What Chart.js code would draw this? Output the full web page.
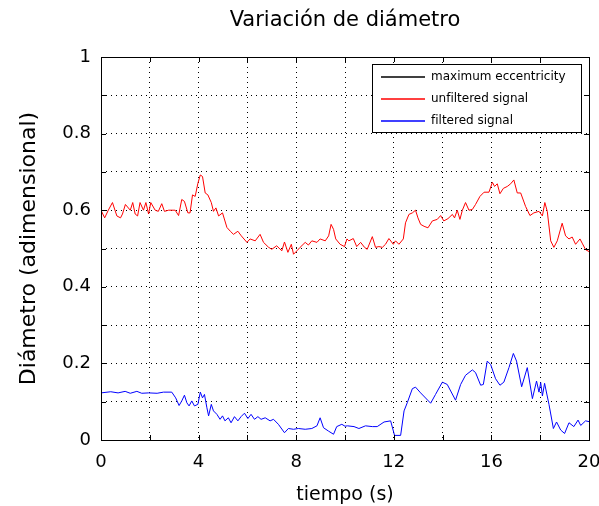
<!DOCTYPE html>
<html lang="es">
<head>
  <meta charset="UTF-8">
  <title>Variación de diámetro</title>
  <style>
    html, body { margin: 0; padding: 0; background: #fff; }
    #wrap { width: 599px; height: 506px; position: relative; }
  </style>
</head>
<body>
  <div id="wrap"><canvas id="chart"></canvas></div>

  <script src="https://cdn.jsdelivr.net/npm/chart.js"></script>
  <script>
    // values
    const redT = [0, 0.15, 0.3, 0.47, 0.65, 0.8, 0.88, 1.0, 1.2, 1.3, 1.4, 1.5, 1.6, 1.74, 1.84, 1.95, 2.04, 2.22, 2.35, 2.49, 2.6, 2.77, 3.04, 3.18, 3.31, 3.42, 3.56, 3.65, 3.75, 3.86, 3.97, 4.07, 4.16, 4.27, 4.38, 4.52, 4.61, 4.71, 4.82, 4.98, 5.16, 5.3, 5.43, 5.61, 5.75, 5.98, 6.11, 6.32, 6.52, 6.66, 6.87, 7.0, 7.2, 7.41, 7.52, 7.66, 7.8, 7.89, 8.03, 8.16, 8.37, 8.5, 8.64, 8.85, 8.98, 9.19, 9.33, 9.43, 9.53, 9.62, 9.8, 9.98, 10.08, 10.16, 10.34, 10.48, 10.64, 10.8, 10.91, 11.12, 11.25, 11.39, 11.53, 11.66, 11.8, 11.98, 12.07, 12.21, 12.39, 12.48, 12.62, 12.76, 12.89, 12.99, 13.1, 13.24, 13.4, 13.58, 13.78, 13.92, 14.05, 14.22, 14.4, 14.49, 14.6, 14.71, 14.81, 14.94, 15.08, 15.22, 15.35, 15.53, 15.7, 15.9, 16.04, 16.13, 16.24, 16.35, 16.49, 16.65, 16.79, 16.92, 17.06, 17.2, 17.4, 17.58, 17.74, 17.95, 18.09, 18.19, 18.29, 18.43, 18.56, 18.7, 18.9, 19.04, 19.18, 19.31, 19.45, 19.63, 19.72, 19.86, 20];
    const redV = [0.60, 0.58, 0.60, 0.62, 0.585, 0.58, 0.59, 0.615, 0.60, 0.62, 0.59, 0.585, 0.62, 0.60, 0.62, 0.59, 0.62, 0.60, 0.597, 0.617, 0.597, 0.60, 0.60, 0.586, 0.628, 0.623, 0.593, 0.593, 0.64, 0.636, 0.67, 0.692, 0.688, 0.645, 0.64, 0.62, 0.597, 0.606, 0.585, 0.593, 0.555, 0.545, 0.537, 0.545, 0.533, 0.516, 0.525, 0.52, 0.537, 0.516, 0.503, 0.498, 0.507, 0.494, 0.517, 0.49, 0.511, 0.485, 0.494, 0.503, 0.516, 0.509, 0.52, 0.516, 0.525, 0.52, 0.533, 0.563, 0.55, 0.525, 0.511, 0.505, 0.525, 0.52, 0.526, 0.505, 0.516, 0.503, 0.498, 0.531, 0.503, 0.505, 0.503, 0.511, 0.526, 0.511, 0.52, 0.511, 0.525, 0.567, 0.589, 0.593, 0.60, 0.58, 0.563, 0.558, 0.554, 0.572, 0.576, 0.586, 0.572, 0.578, 0.589, 0.58, 0.60, 0.576, 0.60, 0.62, 0.60, 0.602, 0.615, 0.636, 0.647, 0.647, 0.673, 0.662, 0.669, 0.643, 0.657, 0.662, 0.669, 0.679, 0.645, 0.645, 0.61, 0.586, 0.593, 0.597, 0.585, 0.62, 0.597, 0.52, 0.503, 0.52, 0.566, 0.533, 0.525, 0.53, 0.511, 0.525, 0.514, 0.497, 0.492];

    const blueT = [0, 0.4, 0.7, 0.99, 1.2, 1.47, 1.67, 1.95, 2.3, 2.56, 2.9, 3.06, 3.2, 3.31, 3.42, 3.52, 3.61, 3.72, 3.83, 3.97, 4.07, 4.16, 4.24, 4.34, 4.41, 4.52, 4.61, 4.75, 4.88, 4.98, 5.08, 5.22, 5.33, 5.47, 5.61, 5.74, 5.88, 6.02, 6.15, 6.29, 6.43, 6.56, 6.73, 6.93, 7.07, 7.27, 7.52, 7.68, 7.89, 8.09, 8.37, 8.64, 8.85, 8.98, 9.12, 9.33, 9.53, 9.66, 9.87, 10.0, 10.1, 10.37, 10.57, 10.84, 11.12, 11.32, 11.6, 11.87, 12.03, 12.28, 12.42, 12.55, 12.76, 12.89, 13.1, 13.51, 13.71, 13.99, 14.19, 14.53, 14.74, 14.94, 15.22, 15.35, 15.56, 15.67, 15.83, 15.97, 16.17, 16.35, 16.51, 16.72, 16.9, 17.03, 17.24, 17.47, 17.68, 17.85, 17.95, 18.02, 18.09, 18.18, 18.36, 18.54, 18.67, 18.84, 19.0, 19.18, 19.38, 19.55, 19.66, 19.86, 20];
    const blueV = [0.123, 0.126, 0.123, 0.127, 0.122, 0.127, 0.122, 0.123, 0.122, 0.125, 0.125, 0.11, 0.09, 0.102, 0.117, 0.097, 0.089, 0.102, 0.089, 0.093, 0.125, 0.11, 0.119, 0.084, 0.063, 0.093, 0.076, 0.067, 0.054, 0.063, 0.05, 0.058, 0.045, 0.061, 0.05, 0.061, 0.07, 0.056, 0.067, 0.054, 0.061, 0.054, 0.058, 0.05, 0.054, 0.041, 0.019, 0.03, 0.028, 0.03, 0.028, 0.03, 0.037, 0.058, 0.032, 0.023, 0.015, 0.035, 0.041, 0.036, 0.037, 0.035, 0.03, 0.037, 0.035, 0.035, 0.047, 0.05, 0.012, 0.012, 0.076, 0.097, 0.134, 0.138, 0.123, 0.096, 0.119, 0.151, 0.145, 0.104, 0.145, 0.169, 0.183, 0.176, 0.143, 0.145, 0.206, 0.197, 0.16, 0.143, 0.151, 0.189, 0.226, 0.206, 0.139, 0.189, 0.108, 0.154, 0.125, 0.15, 0.115, 0.148, 0.093, 0.03, 0.047, 0.026, 0.017, 0.045, 0.035, 0.052, 0.038, 0.05, 0.048];

    const xLabels = [0, 4, 8, 12, 16, 20];
    const yLabels = [0, 0.2, 0.4, 0.6, 0.8, 1];
    const seriesNames = ['maximum eccentricity', 'unfiltered signal', 'filtered signal'];
    const seriesColors = ['#000000', '#ff0000', '#0000ff'];
    const chartTitle = 'Variación de diámetro';

    const toPts = (t, v) => t.map((x, i) => ({ x: x, y: v[i] }));
    const FONT = "'DejaVu Sans', Verdana, sans-serif";

    // MATLAB-like frame, inward tick marks, title over plot and boxed legend
    const matlabFrame = {
      id: 'matlabFrame',
      afterDatasetsDraw(chart) {
        const { ctx, chartArea: a, scales } = chart;
        ctx.save();
        ctx.strokeStyle = '#000';
        ctx.lineWidth = 1;
        ctx.beginPath();
        scales.x.ticks.forEach(tk => {
          const px = Math.round(scales.x.getPixelForValue(tk.value)) + 0.5;
          ctx.moveTo(px, a.bottom); ctx.lineTo(px, a.bottom - 5);
          ctx.moveTo(px, a.top); ctx.lineTo(px, a.top + 5);
        });
        scales.y.ticks.forEach(tk => {
          const py = Math.round(scales.y.getPixelForValue(tk.value)) + 0.5;
          ctx.moveTo(a.left, py); ctx.lineTo(a.left + 5, py);
          ctx.moveTo(a.right, py); ctx.lineTo(a.right - 5, py);
        });
        ctx.stroke();
        ctx.strokeRect(Math.round(a.left) + 0.5, Math.round(a.top) + 0.5,
          Math.round(a.right - a.left), Math.round(a.bottom - a.top));

        // title, centred over the plot area
        ctx.fillStyle = '#000';
        ctx.font = '21px ' + FONT;
        ctx.textAlign = 'center';
        ctx.textBaseline = 'middle';
        ctx.fillText(chartTitle, (a.left + a.right) / 2, 21);

        // legend
        const lx = Math.round(a.right) - 217, ly = Math.round(a.top) + 7, lw = 209, lh = 68;
        ctx.fillStyle = '#fff';
        ctx.fillRect(lx, ly, lw, lh);
        ctx.strokeStyle = '#000';
        ctx.strokeRect(lx + 0.5, ly + 0.5, lw, lh);
        ctx.font = '12px ' + FONT;
        ctx.textAlign = 'left';
        chart.data.datasets.forEach((ds, i) => {
          const y = Math.round(ly + 13 + i * 22);
          ctx.strokeStyle = seriesColors[i];
          ctx.lineWidth = 1.3;
          ctx.beginPath();
          ctx.moveTo(lx + 9, y);
          ctx.lineTo(lx + 53, y);
          ctx.stroke();
          ctx.fillStyle = '#000';
          ctx.fillText(ds.label, lx + 59, y);
        });
        ctx.restore();
      }
    };

    new Chart(document.getElementById('chart'), {
      type: 'line',
      data: {
        datasets: [
          { label: seriesNames[0], data: [], borderColor: seriesColors[0], borderWidth: 1, pointRadius: 0 },
          { label: seriesNames[1], data: toPts(redT, redV), borderColor: seriesColors[1], borderWidth: 1, pointRadius: 0, tension: 0 },
          { label: seriesNames[2], data: toPts(blueT, blueV), borderColor: seriesColors[2], borderWidth: 1, pointRadius: 0, tension: 0 }
        ]
      },
      options: {
        responsive: true,
        maintainAspectRatio: false,
        animation: false,
        layout: { padding: { top: 57, right: 10, bottom: 0, left: 16 } },
        plugins: {
          legend: { display: false },
          tooltip: { enabled: false },
          title: { display: false }
        },
        scales: {
          x: {
            type: 'linear',
            min: 0, max: 20,
            ticks: {
              stepSize: 2,
              color: '#000',
              font: { family: FONT, size: 18 },
              maxRotation: 0,
              padding: 12,
              callback: v => xLabels.includes(v) ? v : ''
            },
            grid: { color: '#000', lineWidth: 1, drawTicks: false },
            border: { display: false, dash: [1, 4] },
            title: {
              display: true, text: 'tiempo (s)', color: '#000',
              font: { family: FONT, size: 19 }, padding: { top: 0, bottom: 0 }
            },
            afterFit: s => { s.height = 66; s.paddingLeft = 0; s.paddingRight = 0; }
          },
          y: {
            min: 0, max: 1,
            ticks: {
              stepSize: 0.1,
              color: '#000',
              font: { family: FONT, size: 18 },
              padding: 10,
              callback: v => {
                const r = Math.round(v * 10) / 10;
                return yLabels.some(l => Math.abs(l - r) < 1e-9) ? String(r) : '';
              }
            },
            grid: { color: '#000', lineWidth: 1, drawTicks: false },
            border: { display: false, dash: [1, 4] },
            title: {
              display: true, text: 'Diámetro (adimensional)', color: '#000',
              font: { family: FONT, size: 22 }, padding: { top: 0, bottom: 6 }
            },
            afterFit: s => { s.width = 85; s.paddingTop = 0; s.paddingBottom = 0; }
          }
        }
      },
      plugins: [matlabFrame]
    });
  </script>
</body>
</html>
